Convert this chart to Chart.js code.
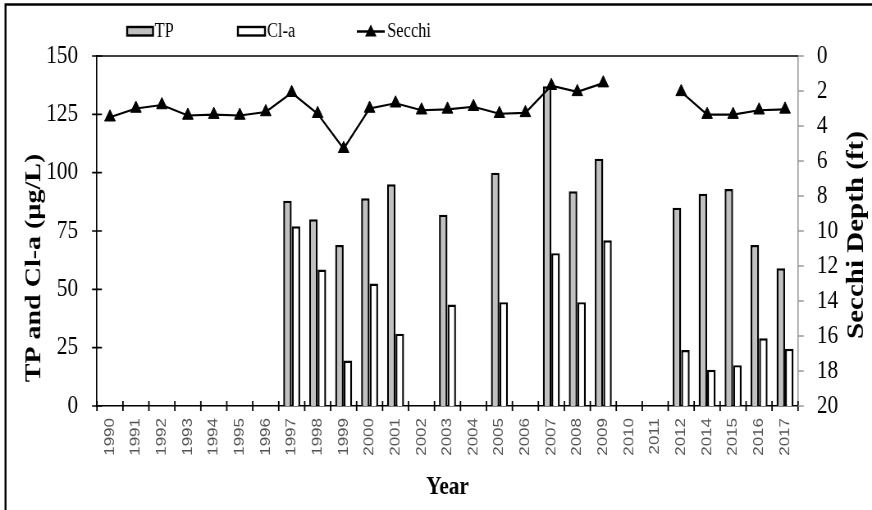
<!DOCTYPE html>
<html><head><meta charset="utf-8">
<script src="https://cdn.jsdelivr.net/npm/chart.js@4"></script>
<style>
html,body{margin:0;padding:0;background:#fff;overflow:hidden;width:872px;height:510px;}
#wrap{position:absolute;left:0;top:0;width:1063px;height:510px;transform:scaleX(0.82032);transform-origin:0 0;}
</style></head><body>
<div id="wrap"><canvas id="c"></canvas></div>
<script>
const years = ['1990','1991','1992','1993','1994','1995','1996','1997','1998','1999','2000','2001','2002','2003','2004','2005','2006','2007','2008','2009','2010','2011','2012','2014','2015','2016','2017'];
const tpValues = [null,null,null,null,null,null,null,88,80,69,89,95,null,82,null,100,null,137,92,106,null,null,85,91,93,69,59];
const claValues = [null,null,null,null,null,null,null,77,58.5,19.5,52.5,31,null,43.5,null,44.5,null,65.5,44.5,71,null,null,24,15.5,17.5,29,24.5];
const secchiValues = [3.5,3.0,2.8,3.4,3.35,3.4,3.2,2.1,3.3,5.3,3.0,2.7,3.1,3.05,2.9,3.3,3.25,1.7,2.05,1.55,null,null,2.05,3.35,3.35,3.1,3.05];
const leftTicks = [0,25,50,75,100,125,150];
const rightTicks = [0,2,4,6,8,10,12,14,16,18,20];

const W = 1063;
const SERIF = '"Liberation Serif", "Times New Roman", serif';

const deco = {
  id: 'deco',
  afterDraw(chart) {
    const {ctx, chartArea: a, scales} = chart;
    const x = scales.x, y = scales.y, y2 = scales.y2;
    ctx.save();
    // outer frame (top and left)
    ctx.strokeStyle = '#000';
    ctx.lineWidth = 2.4;
    ctx.beginPath();
    ctx.moveTo(6.7, 520); ctx.lineTo(6.7, 4.5); ctx.lineTo(W + 10, 4.5);
    ctx.stroke();
    // plot top border
    ctx.lineWidth = 1.6;
    ctx.beginPath(); ctx.moveTo(a.left, a.top); ctx.lineTo(a.right, a.top); ctx.stroke();
    // x ticks (crossing, at category boundaries)
    ctx.lineWidth = 1.8;
    ctx.beginPath();
    for (let i = 0; i <= years.length; i++) {
      const px = x.getPixelForValue(i - 0.5);
      ctx.moveTo(px, a.bottom - 5); ctx.lineTo(px, a.bottom + 5);
    }
    ctx.stroke();
    // left y ticks (crossing)
    ctx.lineWidth = 1.6;
    ctx.beginPath();
    leftTicks.forEach(v => { const py = y.getPixelForValue(v); ctx.moveTo(a.left - 6, py); ctx.lineTo(a.left + 6, py); });
    ctx.stroke();
    // right y ticks (outside, grey)
    ctx.strokeStyle = '#999';
    ctx.beginPath();
    rightTicks.forEach(v => { const py = y2.getPixelForValue(v); ctx.moveTo(a.right, py); ctx.lineTo(a.right + 7, py); });
    ctx.stroke();

    // axis titles
    ctx.fillStyle = '#000';
    ctx.textAlign = 'center'; ctx.textBaseline = 'middle';
    ctx.font = 'bold 28px ' + SERIF;
    ctx.save(); ctx.translate(42, 268); ctx.rotate(-Math.PI / 2); ctx.fillText('TP and Cl-a (µg/L)', 0, 0); ctx.restore();
    ctx.font = 'bold 29px ' + SERIF;
    ctx.save(); ctx.translate(1045, 235); ctx.rotate(-Math.PI / 2); ctx.fillText('Secchi Depth (ft)', 0, 0); ctx.restore();
    ctx.font = 'bold 26px ' + SERIF;
    ctx.fillText('Year', (a.left + a.right) / 2, 487);

    // legend
    ctx.font = '20px ' + SERIF;
    ctx.textAlign = 'left';
    ctx.lineWidth = 2.4;
    ctx.strokeStyle = '#000';
    ctx.fillStyle = '#c0c0c0';
    ctx.fillRect(155, 27, 31.5, 8.5); ctx.strokeRect(155, 27, 31.5, 8.5);
    ctx.fillStyle = '#fff';
    ctx.fillRect(290, 27, 33, 8.5); ctx.strokeRect(290, 27, 33, 8.5);
    ctx.fillStyle = '#000';
    ctx.fillText('TP', 188.5, 32);
    ctx.fillText('Cl-a', 325.5, 32);
    ctx.beginPath(); ctx.moveTo(435, 31.5); ctx.lineTo(469, 31.5); ctx.stroke();
    ctx.beginPath(); ctx.moveTo(452, 24.5); ctx.lineTo(459, 36.5); ctx.lineTo(445, 36.5); ctx.closePath(); ctx.fill();
    ctx.fillText('Secchi', 472, 32);
    ctx.restore();
  }
};

new Chart(document.getElementById('c'), {
  type: 'bar',
  data: {
    labels: years,
    datasets: [
      {type: 'line', label: 'Secchi', data: secchiValues, yAxisID: 'y2', borderColor: '#000', backgroundColor: '#000',
       borderWidth: 2.2, pointStyle: 'triangle', pointRadius: 7.5, pointBackgroundColor: '#000', pointBorderColor: '#000',
       pointBorderWidth: 1, spanGaps: false, tension: 0, order: 0},
      {label: 'TP', data: tpValues, yAxisID: 'y', backgroundColor: '#c0c0c0', borderColor: '#000', borderWidth: 2.4,
       categoryPercentage: 0.655, barPercentage: 1, order: 1},
      {label: 'Cl-a', data: claValues, yAxisID: 'y', backgroundColor: '#ffffff', borderColor: '#000', borderWidth: 2.4,
       categoryPercentage: 0.655, barPercentage: 1, order: 2}
    ]
  },
  options: {
    responsive: true, maintainAspectRatio: false, animation: false, devicePixelRatio: 1,
    layout: {padding: {top: 56, left: 0, right: 0, bottom: 0}},
    plugins: {legend: {display: false}, tooltip: {enabled: false}, title: {display: false}},
    scales: {
      x: {
        type: 'category', offset: true,
        grid: {display: false, drawTicks: false},
        border: {display: true, color: '#000', width: 1.6},
        ticks: {autoSkip: false, maxRotation: 90, minRotation: 90, padding: 12, color: '#555',
                font: {family: '"Liberation Sans", Arial, sans-serif', size: 17}},
        afterFit(s) { s.height = 104; }
      },
      y: {
        position: 'left', min: 0, max: 150,
        ticks: {stepSize: 25, padding: 23, color: '#000', font: {family: SERIF, size: 26}},
        grid: {display: false, drawTicks: false},
        border: {display: true, color: '#000', width: 1.6},
        afterFit(s) { s.width = 118.2; }
      },
      y2: {
        position: 'right', min: 0, max: 20, reverse: true,
        ticks: {stepSize: 2, padding: 23, color: '#000', font: {family: SERIF, size: 26}},
        grid: {display: false, drawTicks: false},
        border: {display: true, color: '#999', width: 1.6},
        afterFit(s) { s.width = W - 972.8; }
      }
    }
  },
  plugins: [deco]
});
</script>
</body></html>
